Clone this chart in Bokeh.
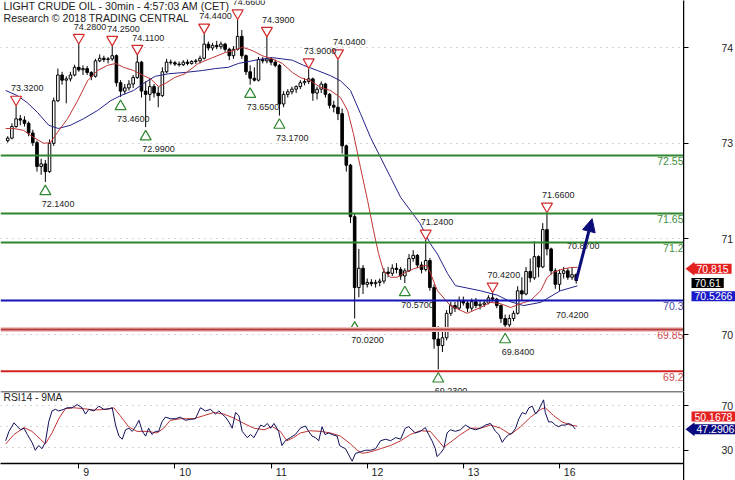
from bokeh.plotting import figure
from bokeh.models import (Range1d, FixedTicker, Span, Label, Arrow, NormalHead,
                          ColumnDataSource)
from bokeh.layouts import column, row
from bokeh.embed import file_html
from bokeh.resources import INLINE
from bokeh.core.properties import value

# ---------------- data ----------------
day_tick_bars = [0, 23, 46, 69, 92, 115]
day_tick_labels = ["9", "10", "11", "12", "13", "16"]

# price-axis labels as they sit on the chart's price scale
price_tick_pos = [74.227, 72.737, 71.261, 69.771]
price_tick_labels = ["74", "73", "71", "70"]

rsi_tick_vals = [30, 70]
rsi_tick_labels = ["30", "70"]
rsi_grid_vals = [30, 50, 70]

# hourly bars, bar 0 = start of day 9
bars = list(range(-17, 120))
opens = [
    72.78, 72.82, 73.00, 73.12, 73.10, 73.05, 72.90, 72.75, 72.38, 72.42, 72.30, 72.74, 73.40, 73.80, 73.72, 73.74, 73.80,
    73.92, 73.88, 73.90, 73.84, 73.78, 74.02, 74.06, 74.04, 74.05, 74.10, 73.68, 73.55, 73.60, 73.66, 73.76, 74.00, 73.55, 73.50, 73.62, 73.52, 73.48, 73.85, 74.00,
    73.99, 73.97, 73.96, 74.00, 73.98, 74.01, 74.02, 74.06, 74.28, 74.22, 74.26, 74.24, 74.28, 74.20, 74.10, 74.20, 74.40, 74.10, 73.85, 73.75, 73.72, 74.04, 74.02,
    74.05, 74.00, 73.95, 73.35, 73.50, 73.54, 73.58, 73.62, 73.68, 73.70, 73.74, 73.52, 73.58, 73.66, 73.50, 73.33, 73.30, 73.20, 72.70, 72.40, 71.60, 70.50, 70.80,
    70.55, 70.58, 70.56, 70.58, 70.60, 70.74, 70.72, 70.80, 70.78, 70.68, 70.76, 70.95, 71.00, 70.85, 70.78, 70.92, 70.50, 69.70, 69.60, 69.72, 70.10, 70.22, 70.18,
    70.30, 70.26, 70.18, 70.28, 70.22, 70.24, 70.26, 70.34, 70.32, 70.22, 70.02, 69.92, 70.02, 70.10, 70.45, 70.40, 70.75, 70.65, 70.98, 70.82, 71.40, 71.10, 70.76,
    70.55, 70.72, 70.76, 70.66, 70.70,
]
highs = [
    72.85, 73.05, 73.32, 73.18, 73.16, 73.08, 72.95, 72.78, 72.50, 72.48, 72.80, 73.45, 73.90, 73.85, 73.78, 73.85, 73.96,
    74.28, 73.95, 73.94, 73.86, 74.05, 74.12, 74.10, 74.08, 74.25, 74.12, 73.72, 73.66, 73.72, 73.80, 74.11, 74.02, 73.70, 73.75, 73.66, 73.62, 73.92, 74.05, 74.04,
    74.02, 74.01, 74.03, 74.04, 74.03, 74.05, 74.10, 74.44, 74.32, 74.30, 74.33, 74.32, 74.30, 74.22, 74.25, 74.66, 74.50, 74.12, 73.95, 73.92, 74.08, 74.08, 74.39,
    74.08, 74.04, 73.97, 73.55, 73.58, 73.62, 73.64, 73.72, 73.75, 73.90, 73.76, 73.62, 73.70, 73.68, 73.52, 73.40, 74.04, 73.28, 72.72, 72.42, 71.65, 71.10, 70.85,
    70.64, 70.63, 70.62, 70.64, 70.80, 70.82, 70.86, 70.88, 70.82, 70.80, 71.02, 71.08, 71.02, 70.90, 71.24, 70.96, 70.55, 69.90, 69.82, 70.15, 70.28, 70.28, 70.36,
    70.36, 70.30, 70.33, 70.34, 70.30, 70.30, 70.38, 70.42, 70.34, 70.24, 70.08, 70.08, 70.14, 70.52, 70.66, 70.82, 70.95, 71.22, 71.00, 71.50, 71.66, 71.12, 70.80,
    70.78, 70.82, 70.80, 70.82, 70.72,
]
lows = [
    72.75, 72.80, 72.98, 73.02, 73.00, 72.85, 72.70, 72.30, 72.25, 72.14, 72.28, 72.70, 73.38, 73.65, 73.36, 73.70, 73.78,
    73.85, 73.80, 73.80, 73.72, 73.76, 74.00, 74.00, 73.98, 74.02, 73.62, 73.46, 73.50, 73.56, 73.60, 73.74, 73.45, 72.99, 73.40, 73.45, 73.30, 73.46, 73.83, 73.96,
    73.94, 73.93, 73.94, 73.95, 73.96, 73.97, 73.98, 74.04, 74.18, 74.18, 74.20, 74.20, 74.16, 74.03, 74.05, 74.18, 74.05, 73.80, 73.65, 73.70, 73.70, 73.98, 73.98,
    73.95, 73.92, 73.17, 73.30, 73.45, 73.50, 73.52, 73.58, 73.64, 73.66, 73.40, 73.42, 73.52, 73.45, 73.28, 73.22, 73.10, 72.58, 72.30, 71.50, 70.02, 70.35, 70.40,
    70.50, 70.52, 70.50, 70.52, 70.56, 70.66, 70.68, 70.72, 70.62, 70.57, 70.74, 70.90, 70.80, 70.72, 70.75, 70.45, 69.55, 69.23, 69.50, 69.68, 70.06, 70.12, 70.15,
    70.22, 70.12, 70.14, 70.18, 70.16, 70.20, 70.24, 70.28, 70.18, 69.95, 69.84, 69.88, 69.98, 70.08, 70.30, 70.38, 70.58, 70.62, 70.66, 70.80, 71.00, 70.70, 70.48,
    70.45, 70.64, 70.62, 70.62, 70.56,
]
closes = [
    72.82, 73.00, 73.12, 73.10, 73.05, 72.90, 72.75, 72.38, 72.42, 72.30, 72.74, 73.40, 73.80, 73.72, 73.74, 73.80, 73.92,
    73.88, 73.90, 73.84, 73.78, 74.02, 74.06, 74.04, 74.05, 74.10, 73.68, 73.55, 73.60, 73.66, 73.76, 74.00, 73.55, 73.50, 73.62, 73.52, 73.48, 73.85, 74.00, 73.99,
    73.97, 73.96, 74.00, 73.98, 74.01, 74.02, 74.06, 74.28, 74.22, 74.26, 74.24, 74.28, 74.20, 74.10, 74.20, 74.40, 74.10, 73.85, 73.75, 73.72, 74.04, 74.02, 74.05,
    74.00, 73.95, 73.35, 73.50, 73.54, 73.58, 73.62, 73.68, 73.70, 73.74, 73.52, 73.58, 73.66, 73.50, 73.33, 73.30, 73.20, 72.70, 72.40, 71.60, 70.50, 70.80, 70.55,
    70.58, 70.56, 70.58, 70.60, 70.74, 70.72, 70.80, 70.78, 70.68, 70.76, 70.95, 71.00, 70.85, 70.78, 70.92, 70.50, 69.70, 69.60, 69.72, 70.10, 70.22, 70.18, 70.30,
    70.26, 70.18, 70.28, 70.22, 70.24, 70.26, 70.34, 70.32, 70.22, 70.02, 69.92, 70.02, 70.10, 70.45, 70.40, 70.75, 70.65, 70.98, 70.82, 71.40, 71.10, 70.76, 70.55,
    70.72, 70.76, 70.66, 70.70, 70.61,
]

ma_fast_x = [-17.5, -15.6, -13.2, -10.8, -8.4, -6.8, -5.1, -2.7, -0.3, 2.1, 4.5, 6.9, 8.8, 10.7, 13.1, 15.5,
             17.2, 19.1, 20.7, 22.9, 25.4, 28.6, 32.0, 35.1, 37.5, 39.2, 41.5, 43.9, 46.3, 48.7, 51.1, 53.0,
             55.4, 57.8, 60.2, 62.6, 64.3, 65.7, 67.4, 69.1, 70.5, 71.7, 72.9, 74.6, 76.2, 77.7, 80.1, 82.5,
             83.4, 85.8, 88.9, 92.9, 96.1, 98.5, 100.9, 103.3, 105.7, 108.1, 110.5, 112.1, 113.6, 115.9, 117.6, 119.3]
ma_fast_p = [72.97, 72.97, 72.94, 72.83, 72.74, 72.75, 72.91, 73.12, 73.40, 73.71, 73.87, 73.95, 73.98, 73.92, 73.87, 73.79,
             73.74, 73.62, 73.67, 73.76, 73.82, 73.98, 74.07, 74.15, 74.19, 74.23, 74.18, 74.10, 74.05, 73.98, 73.84, 73.76,
             73.71, 73.61, 73.56, 73.45, 73.25, 72.89, 72.36, 71.85, 71.39, 71.03, 70.76, 70.66, 70.66, 70.72, 70.79, 70.84,
             70.84, 70.45, 70.22, 70.10, 70.19, 70.27, 70.25, 70.19, 70.25, 70.30, 70.45, 70.66, 70.74, 70.79, 70.81, 70.815]

ma_slow_x = [-17.5, -14.7, -12.3, -9.9, -7.2, -4.9, -2.0, 1.1, 4.5, 7.6, 10.0, 13.1, 15.5, 17.2, 18.3, 21.5, 25.4,
             29.6, 32.7, 35.8, 38.2, 39.9, 43.0, 46.3, 48.7, 51.1, 53.8, 57.1, 60.2, 62.6, 65.0, 67.4, 69.8, 72.2,
             74.6, 77.0, 79.3, 81.7, 84.1, 85.8, 88.2, 90.1, 96.1, 100.2, 103.3, 106.4, 110.5, 115.2, 119.3]
ma_slow_p = [73.56, 73.48, 73.37, 73.22, 73.02, 72.97, 73.02, 73.12, 73.25, 73.40, 73.48, 73.56, 73.67, 73.74, 73.78, 73.82, 73.84,
             73.87, 73.90, 73.92, 73.98, 74.00, 74.04, 74.07, 74.05, 74.03, 73.95, 73.87, 73.79, 73.71, 73.56, 73.20, 72.83, 72.52,
             72.21, 71.90, 71.70, 71.49, 71.18, 71.02, 70.72, 70.53, 70.45, 70.38, 70.28, 70.22, 70.27, 70.45, 70.5266]

pivot_high_x = [-15, 0, 8, 14, 30, 38, 45, 55, 62, 83, 99, 112]
pivot_high_p = [73.32, 74.28, 74.25, 74.11, 74.44, 74.66, 74.39, 73.90, 74.04, 71.24, 70.42, 71.66]
pivot_low_x = [-8, 10, 16, 41, 48, 66, 78, 86, 102]
pivot_low_p = [72.14, 73.46, 72.99, 73.65, 73.17, 70.02, 70.57, 69.23, 69.84]
pending_high_x = [118]
pending_high_p = [70.87]
pending_low_x = [115]
pending_low_p = [70.42]

resistance_levels = [72.55, 71.65, 71.2]
pivot_levels = [70.3]
support_levels = [69.85, 69.2]
level_labels = ["72.55", "71.65", "71.2", "70.3", "69.85", "69.2"]

forecast_x = [119, 122.8]
forecast_p = [70.61, 71.57]

last_price = "70.61"
ma_fast_last = "70.815"
ma_slow_last = "70.5266"

rsi_x = [-17.5, -16.7, -15.5, -14.7, -13.9, -13.1, -12.3, -11.2, -10.4, -9.6, -8.8, -8.0, -7.2, -6.4, -5.6, -4.8,
         -3.6, -2.8, -1.6, -0.4, 0.8, 1.6, 2.4, 3.6, 4.8, 6.0, 7.2, 8.0, 8.8, 9.6, 10.4, 11.2, 12.0, 12.8, 13.6,
         14.4, 15.2, 16.0, 16.7, 17.5, 18.3, 19.1, 19.9, 20.7, 21.9, 23.1, 24.3, 25.5, 26.7, 27.9, 29.1, 30.3,
         31.5, 32.7, 33.5, 34.3, 35.1, 35.9, 36.7, 37.5, 38.3, 39.1, 40.3, 41.1, 41.9, 42.7, 43.5, 44.3, 45.1,
         45.9, 46.7, 47.8, 48.6, 49.4, 50.6, 51.8,
         53.0, 54.2, 55.0, 55.8, 56.6, 57.4, 58.2, 58.9, 59.8, 60.6, 61.8, 62.4, 63.0, 63.8, 64.6, 65.4, 66.2,
         67.4, 68.6, 69.8, 71.0, 72.2, 73.4, 74.6, 75.8, 77.0, 78.1, 78.9, 79.7, 80.5, 81.7, 82.9, 83.7, 84.5,
         85.3, 85.7, 86.5, 87.3, 88.1, 88.9, 90.1, 91.3, 92.5, 93.7, 94.9, 96.1, 97.3, 98.5, 99.7, 100.5, 101.3,
         102.1, 102.9, 103.7, 104.5, 105.3, 106.1, 106.9, 107.7, 108.5, 109.3, 110.1, 110.8, 111.2, 111.6, 112.4,
         113.2, 114.0, 114.8, 115.6, 116.4, 117.2, 118.0, 118.8]
rsi_v = [36.3, 45.2, 53.3, 49.7, 46.7, 48.2, 42.2, 34.8, 27.3, 31.8, 28.8, 34.8, 54.2, 64.6, 66.1, 64.6,
         66.1, 67.6, 67.6, 70.6, 67.6, 61.6, 66.1, 64.6, 69.1, 66.1, 66.7, 67.6, 51.2, 40.7, 37.8, 46.7, 48.2, 45.2, 49.7,
         55.7, 45.2, 40.7, 48.2, 42.2, 45.2, 45.2, 54.2, 58.7, 57.2, 57.2, 58.7, 55.7, 56.6, 57.2, 67.6, 64.6,
         66.1, 61.6, 64.6, 61.6, 58.7, 54.2, 48.2, 63.1, 60.1, 45.2, 39.3, 42.2, 39.3, 45.2, 51.2, 49.7, 52.7,
         48.2, 52.7, 45.2, 31.8, 36.3, 39.3, 42.2,
         48.2, 50.3, 45.2, 40.7, 39.3, 36.3, 49.7, 42.2, 43.7, 42.2, 40.7, 31.8, 30.3, 28.8, 22.8, 16.9, 24.3,
         25.8, 27.3, 27.3, 28.8, 36.3, 37.8, 36.3, 39.3, 37.8, 48.2, 49.7, 46.7, 43.7, 45.2, 48.8, 42.2, 36.3,
         28.8, 21.3, 24.3, 28.8, 43.7, 46.7, 45.2, 46.7, 51.2, 48.2, 46.7, 48.2, 51.2, 52.7, 45.2, 42.2, 34.8,
         39.3, 42.2, 43.7, 48.2, 57.2, 63.1, 61.6, 67.6, 69.1, 61.6, 66.1, 72.1, 75.1, 63.1, 54.2,
         54.2, 51.2, 49.7, 51.2, 51.2, 52.7, 51.2, 47.3]

rsi_ma_x = [-17.5, -15.5, -13.1, -11.2, -9.2, -8.0, -6.4, -4.8, -3.2, -1.2, 1.2, 3.6, 6.8, 8.4, 9.9, 11.9, 13.9,
            16.3, 18.7, 20.3, 21.9, 24.3, 27.5, 29.9, 32.3, 34.7, 37.1, 39.5, 41.9, 44.3, 46.3, 48.2, 49.8, 51.4,
            53.0, 55.4, 57.8, 60.2, 62.6, 65.0, 66.6, 67.8, 69.8, 72.2, 74.6, 77.0, 79.3, 81.7, 84.1, 85.7, 87.3,
            88.9, 91.3, 93.7, 96.1, 98.5, 100.9, 103.3, 105.7, 108.1, 110.5, 111.6, 113.6, 115.6, 117.6, 119.2]
rsi_ma_v = [33.3, 42.2, 48.8, 45.2, 37.8, 33.3, 43.7, 57.2, 66.7, 67.6, 66.7, 65.5, 66.1, 67.6, 60.1, 49.7, 45.2,
            45.2, 43.7, 48.2, 55.7, 57.2, 57.2, 60.1, 63.1, 61.6, 57.8, 52.7, 48.2, 46.7, 49.7, 45.2, 36.3, 39.3,
            43.7, 45.8, 45.2, 43.7, 40.7, 33.3, 27.3, 24.3, 25.8, 28.8, 31.8, 36.3, 42.2, 45.8, 45.2, 37.8, 30.3,
            34.8, 42.2, 48.2, 48.2, 51.2, 48.2, 42.2, 49.7, 58.7, 66.1, 67.6, 60.1, 54.2, 51.2, 50.2]
rsi_last = "47.2906"
rsi_ma_last = "50.1678"

assert len(bars) == len(opens) == len(highs) == len(lows) == len(closes)
assert len(ma_fast_x) == len(ma_fast_p) and len(ma_slow_x) == len(ma_slow_p)
assert len(rsi_x) == len(rsi_v) and len(rsi_ma_x) == len(rsi_ma_v)

# ---------------- styling / layout ----------------
FONT = "Liberation Sans"
TXT = "#222222"
RED = "#d12b2b"
GREEN = "#2e862e"
BLUE = "#1414b4"
NAVY = "#0c0c78"

FRAME_W = 683
STRIP_W = 52
X0, X1 = -18.73, 144.67
Y0, Y1 = 68.886, 74.957
MAIN_H = 391
PPU = MAIN_H / (Y1 - Y0)          # pixels per price unit
R0, R1 = 14.72, 83.03
RSI_H = 76
RPU = RSI_H / (R1 - R0)
BOTTOM = 13

x_range = Range1d(X0, X1)
y_main = Range1d(Y0, Y1)
y_rsi = Range1d(R0, R1)
y_rsi_strip = Range1d(R0 - BOTTOM / RPU, R1)   # same scale, reaching to the page bottom
strip_x = Range1d(0, STRIP_W)

common = dict(output_backend="svg", toolbar_location=None, min_border_left=0, min_border_right=0,
              min_border_top=0, outline_line_color=None,
              background_fill_color="white", border_fill_color="white")

p = figure(width=FRAME_W, height=MAIN_H, x_range=x_range, y_range=y_main,
           x_axis_location=None, y_axis_location=None, min_border_bottom=0, **common)
p.xgrid.visible = False
p.ygrid.ticker = FixedTicker(ticks=price_tick_pos)
p.ygrid.grid_line_color = "#a8a8a8"
p.ygrid.grid_line_dash = "1 5"

# support / resistance levels
level_vals = resistance_levels + pivot_levels + support_levels
level_cols = [GREEN] * len(resistance_levels) + [BLUE] * len(pivot_levels) + ["#b43a3a", "#d42222"]
level_txt_cols = ["#3f8f3f"] * len(resistance_levels) + ["#4a4aa8"] * len(pivot_levels) + ["#cf4a4a"] * len(support_levels)
p.add_layout(Span(location=support_levels[0], dimension="width", line_color="#f2c6c6", line_width=5))
for lv, col in zip(level_vals, level_cols):
    p.add_layout(Span(location=lv, dimension="width", line_color=col, line_width=2))
p.text(x=[X1] * len(level_vals), y=[v - 1.5 / PPU for v in level_vals], text=level_labels,
       text_align="right", text_baseline="top", text_color=level_txt_cols,
       text_font=value(FONT), text_font_size="10.5px")

# candles
src = ColumnDataSource(dict(
    x=bars, h=highs, l=lows,
    top=[max(o, c) for o, c in zip(opens, closes)],
    bot=[min(o, c) for o, c in zip(opens, closes)],
    fill=["white" if c > o else "black" for o, c in zip(opens, closes)],
))
p.segment(x0="x", y0="h", x1="x", y1="l", source=src, line_color="black", line_width=1)
p.vbar(x="x", width=0.62, top="top", bottom="bot", fill_color="fill", line_color="black",
       line_width=1, source=src)

# moving averages
p.line(ma_slow_x, ma_slow_p, line_color="#22228a", line_width=1)
p.line(ma_fast_x, ma_fast_p, line_color="#c03434", line_width=1)

# pivot markers and labels
p.scatter(pivot_high_x, [v + 6.5 / PPU for v in pivot_high_p], marker="inverted_triangle", size=11,
          fill_color="white", line_color=RED, line_width=1.2)
p.scatter(pivot_low_x, [v - 9.5 / PPU for v in pivot_low_p], marker="triangle", size=11,
          fill_color="white", line_color=GREEN, line_width=1.2)
hx = pivot_high_x + pending_high_x
hp = pivot_high_p + pending_high_p
lx = pivot_low_x + pending_low_x
lp = pivot_low_p + pending_low_p
p.text(x=hx, y=hp, text=[f"{v:.4f}" for v in hp], x_offset=-5, y_offset=-17.5,
       text_align="left", text_baseline="alphabetic", text_color=TXT,
       text_font=value(FONT), text_font_size="9px")
p.text(x=lx, y=lp, text=[f"{v:.4f}" for v in lp], x_offset=-3.5, y_offset=19,
       text_align="left", text_baseline="top", text_color=TXT,
       text_font=value(FONT), text_font_size="9px")

# forecast arrow
p.add_layout(Arrow(end=NormalHead(size=13, fill_color=NAVY, line_color=NAVY),
                   x_start=forecast_x[0], y_start=forecast_p[0],
                   x_end=forecast_x[1], y_end=forecast_p[1],
                   line_color=NAVY, line_width=3))

# titles
p.add_layout(Label(x=3, y=74.786, x_units="screen", text="LIGHT CRUDE OIL - 30min - 4:57:03 AM (CET)",
                   text_font=FONT, text_font_size="10.7px", text_color=TXT))
p.add_layout(Label(x=3, y=74.595, x_units="screen", text="Research \u00a9 2018 TRADING CENTRAL",
                   text_font=FONT, text_font_size="10.6px", text_color=TXT))


# ---------------- right-hand price scale strips ----------------
def scale_strip(y_rng, height, ticks, labels):
    s = figure(width=STRIP_W, height=height, x_range=strip_x, y_range=y_rng,
               x_axis_location=None, y_axis_location="left", min_border_bottom=0, **common)
    s.grid.visible = False
    ax = s.yaxis[0]
    ax.ticker = FixedTicker(ticks=ticks)
    ax.major_label_overrides = {t: "" for t in ticks}
    ax.major_label_text_font_size = "0px"
    ax.major_label_standoff = 0
    ax.axis_line_color = "black"
    ax.axis_line_width = 1.5
    ax.major_tick_line_color = "black"
    ax.major_tick_in = 5
    ax.major_tick_out = 0
    ax.minor_tick_line_color = None
    s.text(x=[38] * len(ticks), y=ticks, text=labels, text_align="left", text_baseline="middle",
           text_color=TXT, text_font=value(FONT), text_font_size="10.5px")
    return s


def value_box(fig, y, text, bg, left_px, notch=False, upu=PPU, fg="white"):
    if notch:
        fig.patch([left_px - 8, left_px + 1, left_px + 1], [y, y + 7 / upu, y - 7 / upu],
                  fill_color=bg, line_color=None)
    fig.add_layout(Label(x=left_px, y=y, text=text, text_baseline="middle", text_align="left",
                         text_font=FONT, text_font_size="10.5px", text_color=fg,
                         background_fill_color=bg, padding=dict(left=3, right=3, top=1, bottom=1)))


ps = scale_strip(y_main, MAIN_H, price_tick_pos, price_tick_labels)
value_box(ps, float(ma_fast_last) - 1.5 / PPU, ma_fast_last, "#e32121", 10, notch=True)
value_box(ps, float(last_price) - 2.5 / PPU, last_price, "black", 8)
value_box(ps, float(ma_slow_last) - 10.5 / PPU, ma_slow_last, "#1a1ac8", 8)

# ---------------- RSI panel ----------------
r = figure(width=FRAME_W, height=RSI_H + BOTTOM, x_range=x_range, y_range=y_rsi,
           y_axis_location=None, min_border_bottom=BOTTOM, **common)
r.xgrid.visible = False
r.ygrid.ticker = FixedTicker(ticks=rsi_grid_vals)
r.ygrid.grid_line_color = "#a8a8a8"
r.ygrid.grid_line_dash = "1 5"

xa = r.xaxis[0]
xa.ticker = FixedTicker(ticks=day_tick_bars)
pad = "\u00a0"
xa.major_label_overrides = {t: pad * (5 if len(l) == 1 else 7) + l
                            for t, l in zip(day_tick_bars, day_tick_labels)}
xa.axis_line_color = "black"
xa.axis_line_width = 1.5
xa.major_tick_line_color = "black"
xa.major_tick_out = 5
xa.major_tick_in = 0
xa.minor_tick_line_color = None
xa.major_label_standoff = -3
xa.major_label_text_font = FONT
xa.major_label_text_font_size = "10.5px"
xa.major_label_text_color = TXT

r.add_layout(Span(location=R1, dimension="width", line_color="black", line_width=1.5))
r.line(rsi_ma_x, rsi_ma_v, line_color="#c03434", line_width=1)
r.line(rsi_x, rsi_v, line_color="#10105a", line_width=1)
r.add_layout(Label(x=3, y=72.0, x_units="screen", text="RSI14 - 9MA",
                   text_font=FONT, text_font_size="10.3px", text_color=TXT))

rs = scale_strip(y_rsi_strip, RSI_H + BOTTOM, rsi_tick_vals, rsi_tick_labels)
value_box(rs, float(rsi_ma_last) + 11.5 / RPU, rsi_ma_last, "#e32121", 8, upu=RPU)
value_box(rs, float(rsi_last) + 2.0 / RPU, rsi_last, "#0a0a80", 10, notch=True, upu=RPU)

layout = row(column(p, r, spacing=0), column(ps, rs, spacing=0), spacing=0)
open("out.html", "w").write(file_html(layout, INLINE))
